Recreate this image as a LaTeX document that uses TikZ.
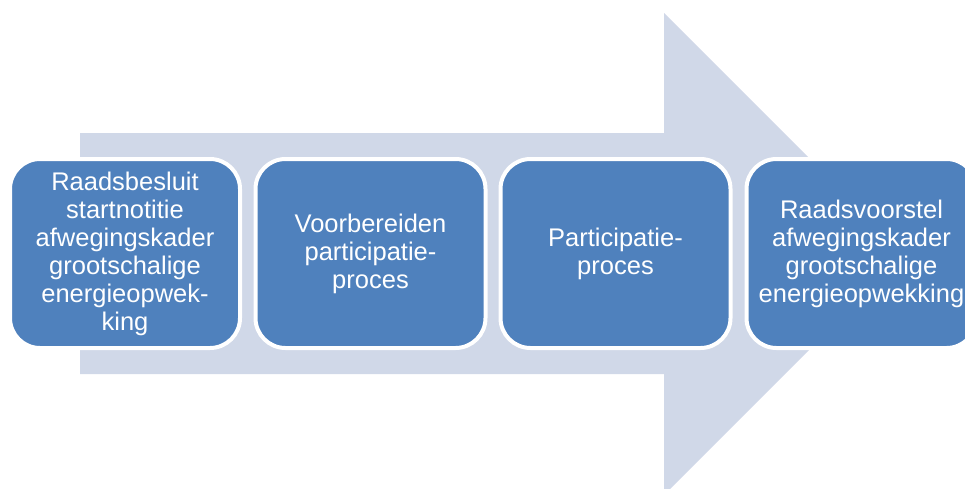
\documentclass[tikz,border=0pt]{standalone}
\usepackage{fontspec}
\setmainfont{Liberation Sans}
\definecolor{arrowfill}{HTML}{D0D8E8}
\definecolor{boxfill}{HTML}{4F81BD}
\begin{document}
\begin{tikzpicture}[x=1pt,y=-1pt,
  stage/.style={fill=boxfill, draw=white, line width=4pt, rounded corners=30pt,
    minimum width=230pt, minimum height=189pt, text=white, align=center,
    inner sep=2pt, font=\fontsize{25.5}{28}\selectfont}]
\useasboundingbox (0,0) rectangle (965,488);
\clip (0,0) rectangle (965,488);
\fill[arrowfill] (80,133) -- (664,133) -- (664,13) -- (905,254) -- (664,495) -- (664,374) -- (80,374) -- cycle;
\node[stage] (s1) at (125,253.5) {Raadsbesluit\\startnotitie\\afwegingskader\\grootschalige\\energieopwek-\\king};
\node[stage] (s2) at (370.5,253.5) {Voorbereiden\\participatie-\\proces};
\node[stage] (s3) at (615.5,253.5) {Participatie-\\proces};
\node[stage] (s4) at (861.5,253.5) {Raadsvoorstel\\afwegingskader\\grootschalige\\energieopwekking};
\end{tikzpicture}
\end{document}
